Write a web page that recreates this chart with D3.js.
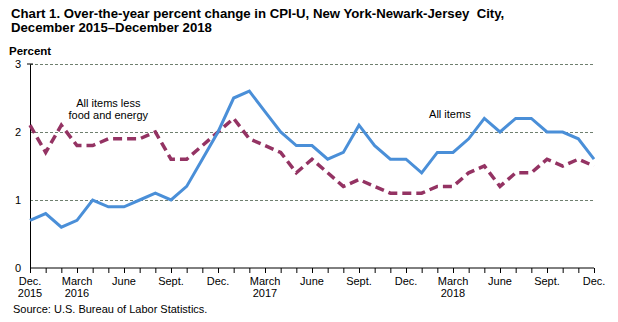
<!DOCTYPE html>
<html>
<head>
<meta charset="utf-8">
<script src="https://cdn.jsdelivr.net/npm/d3@7"></script>
<style>
  body { margin: 0; background: #fff; }
  svg text { font-family: Arial, "Liberation Sans", sans-serif; fill: #000; }
  .grid line { stroke: #6f7f6f; stroke-dasharray: 3,2; stroke-width: 1; }
  .grid .domain { display: none; }
</style>
</head>
<body>
<div id="chart"></div>
<script>
// months, Dec 2015 through Dec 2018
const months = d3.range(37);

// over-the-year percent change, all items
const allItems = [0.7, 0.8, 0.6, 0.7, 1.0, 0.9, 0.9, 1.0, 1.1, 1.0, 1.2, 1.6,
  2.0, 2.5, 2.6, 2.3, 2.0, 1.8, 1.8, 1.6, 1.7, 2.1, 1.8, 1.6,
  1.6, 1.4, 1.7, 1.7, 1.9, 2.2, 2.0, 2.2, 2.2, 2.0, 2.0, 1.9, 1.6];

// all items less food and energy
const coreItems = [2.1, 1.7, 2.1, 1.8, 1.8, 1.9, 1.9, 1.9, 2.0, 1.6, 1.6, 1.8,
  2.0, 2.2, 1.9, 1.8, 1.7, 1.4, 1.6, 1.4, 1.2, 1.3, 1.2, 1.1,
  1.1, 1.1, 1.2, 1.2, 1.4, 1.5, 1.2, 1.4, 1.4, 1.6, 1.5, 1.6, 1.5];

// tick labels every third month
const tickMonths = [0, 3, 6, 9, 12, 15, 18, 21, 24, 27, 30, 33, 36];
const tickLabels = [["Dec.", "2015"], ["March", "2016"], ["June"], ["Sept."],
  ["Dec."], ["March", "2017"], ["June"], ["Sept."],
  ["Dec."], ["March", "2018"], ["June"], ["Sept."], ["Dec."]];

const yTicks = [0, 1, 2, 3];

const W = 618, H = 322;
const margin = { top: 64, right: 24, bottom: 54, left: 30 };
const width = W - margin.left - margin.right,
  height = H - margin.top - margin.bottom;

const svg = d3.select("#chart").append("svg")
  .attr("width", W)
  .attr("height", H);

// title
svg.append("text")
  .attr("x", 11).attr("y", 18)
  .attr("xml:space", "preserve")
  .style("font-size", "13.2px").style("font-weight", "bold")
  .text("Chart 1. Over-the-year percent change in CPI-U, New York-Newark-Jersey  City,");
svg.append("text")
  .attr("x", 11).attr("y", 32)
  .style("font-size", "13.2px").style("font-weight", "bold")
  .text("December 2015\u2013December 2018");

svg.append("text")
  .attr("x", 9).attr("y", 55)
  .style("font-size", "11.5px").style("font-weight", "bold")
  .text("Percent");

const g = svg.append("g")
  .attr("transform", "translate(" + margin.left + "," + margin.top + ")");

const x = d3.scaleLinear().domain([0, 36]).range([0, width]);
const y = d3.scaleLinear().domain([0, 3]).range([height, 0]);

// horizontal gridlines
g.append("g")
  .attr("class", "grid")
  .call(d3.axisLeft(y).tickValues([1, 2, 3]).tickSize(-width).tickFormat(""));

// y axis
const yAxis = g.append("g")
  .call(d3.axisLeft(y).tickValues(yTicks).tickSize(0).tickPadding(0).tickFormat(d3.format("d")));
yAxis.select(".domain").attr("stroke", "#000");
yAxis.selectAll("text")
  .attr("x", -9)
  .style("font-size", "11px")
  .style("font-family", "Arial, 'Liberation Sans', sans-serif");
// small tick at the top
g.append("line")
  .attr("x1", -3).attr("x2", 3)
  .attr("y1", y(3)).attr("y2", y(3))
  .attr("stroke", "#000");

// x axis: a tick each month
const xAxis = g.append("g")
  .attr("transform", "translate(0," + height + ")")
  .call(d3.axisBottom(x).tickValues(months).tickSize(5).tickFormat(""));
xAxis.select(".domain").attr("stroke", "#000").attr("d", "M0,0H" + width);
xAxis.selectAll(".tick line").attr("stroke", "#000");

const labels = g.append("g")
  .selectAll("text")
  .data(tickMonths)
  .join("text")
  .attr("x", d => x(d))
  .attr("y", height + 17)
  .attr("text-anchor", "middle")
  .style("font-size", "11px");
labels.each(function (d, i) {
  const t = d3.select(this);
  tickLabels[i].forEach((s, j) => {
    t.append("tspan").attr("x", x(d)).attr("dy", j === 0 ? 0 : 12).text(s);
  });
});

const line = d3.line()
  .x((d, i) => x(i))
  .y(d => y(d));

g.append("path")
  .datum(coreItems)
  .attr("fill", "none")
  .attr("stroke", "#943363")
  .attr("stroke-width", 3.5)
  .attr("stroke-dasharray", "9,5")
  .attr("d", line);

g.append("path")
  .datum(allItems)
  .attr("fill", "none")
  .attr("stroke", "#4a8fd8")
  .attr("stroke-width", 3)
  .attr("d", line);

// series labels
const core = g.append("text")
  .attr("x", x(5))
  .attr("y", y(2.37))
  .attr("text-anchor", "middle")
  .style("font-size", "11px");
core.append("tspan").attr("x", x(5)).text("All items less");
core.append("tspan").attr("x", x(5)).attr("dy", 12).text("food and energy");

g.append("text")
  .attr("x", x(26.8))
  .attr("y", y(2.21))
  .attr("text-anchor", "middle")
  .style("font-size", "11px")
  .text("All items");

// source note
svg.append("text")
  .attr("x", 13).attr("y", 313)
  .style("font-size", "11px")
  .text("Source: U.S. Bureau of Labor Statistics.");
</script>
</body>
</html>
